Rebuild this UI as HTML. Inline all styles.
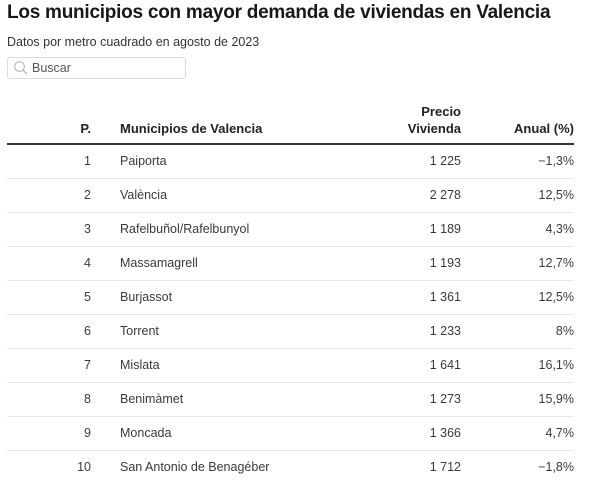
<!DOCTYPE html>
<html><head><meta charset="utf-8">
<style>
html,body{margin:0;padding:0;background:#fff;}
body{width:615px;height:488px;position:relative;overflow:hidden;font-family:"Liberation Sans",Arial,sans-serif;color:#333;}
.t{position:absolute;white-space:nowrap;line-height:16px;}
h1{position:absolute;left:7px;top:1px;margin:0;font-size:19px;font-weight:bold;color:#181818;white-space:nowrap;letter-spacing:-0.25px;line-height:24px;}
.sub{left:7px;top:34px;font-size:12.5px;color:#333;}
.search{position:absolute;left:7px;top:57px;width:179px;height:22px;border:1px solid #ddd;border-radius:3px;box-sizing:border-box;}
.search span{position:absolute;left:24px;top:2px;font-size:12.5px;color:#555;line-height:16px;}
.hd{font-size:13px;font-weight:bold;color:#222;}
.r{text-align:right;}
.line{position:absolute;left:7px;width:567px;height:1px;background:#e6e6e6;}
.cell{font-size:12.5px;color:#3a3a3a;}
</style></head><body>
<h1>Los municipios con mayor demanda de viviendas en Valencia</h1>
<div class="t sub">Datos por metro cuadrado en agosto de 2023</div>
<div class="search">
<svg width="16" height="16" style="position:absolute;left:5px;top:2px" viewBox="0 0 16 16"><circle cx="6.5" cy="6.5" r="4.8" fill="none" stroke="#bbb" stroke-width="1.2"/><line x1="10" y1="10" x2="14" y2="14" stroke="#bbb" stroke-width="1.4"/></svg>
<span>Buscar</span>
</div>
<div class="t hd r" style="right:524px;top:121px;">P.</div>
<div class="t hd" style="left:120px;top:121px;">Municipios de Valencia</div>
<div class="t hd r" style="right:154px;top:104px;">Precio</div>
<div class="t hd r" style="right:154px;top:121px;">Vivienda</div>
<div class="t hd r" style="right:41px;top:121px;">Anual (%)</div>
<div style="position:absolute;left:7px;top:143px;width:567px;height:2px;background:#333;"></div>

<div class="t cell r" style="right:524px;top:153px;">1</div><div class="t cell" style="left:120px;top:153px;">Paiporta</div><div class="t cell r" style="right:154px;top:153px;">1 225</div><div class="t cell r" style="right:41px;top:153px;">−1,3%</div>
<div class="line" style="top:178px"></div>
<div class="t cell r" style="right:524px;top:187px;">2</div><div class="t cell" style="left:120px;top:187px;">València</div><div class="t cell r" style="right:154px;top:187px;">2 278</div><div class="t cell r" style="right:41px;top:187px;">12,5%</div>
<div class="line" style="top:212px"></div>
<div class="t cell r" style="right:524px;top:221px;">3</div><div class="t cell" style="left:120px;top:221px;">Rafelbuñol/Rafelbunyol</div><div class="t cell r" style="right:154px;top:221px;">1 189</div><div class="t cell r" style="right:41px;top:221px;">4,3%</div>
<div class="line" style="top:246px"></div>
<div class="t cell r" style="right:524px;top:255px;">4</div><div class="t cell" style="left:120px;top:255px;">Massamagrell</div><div class="t cell r" style="right:154px;top:255px;">1 193</div><div class="t cell r" style="right:41px;top:255px;">12,7%</div>
<div class="line" style="top:280px"></div>
<div class="t cell r" style="right:524px;top:289px;">5</div><div class="t cell" style="left:120px;top:289px;">Burjassot</div><div class="t cell r" style="right:154px;top:289px;">1 361</div><div class="t cell r" style="right:41px;top:289px;">12,5%</div>
<div class="line" style="top:314px"></div>
<div class="t cell r" style="right:524px;top:323px;">6</div><div class="t cell" style="left:120px;top:323px;">Torrent</div><div class="t cell r" style="right:154px;top:323px;">1 233</div><div class="t cell r" style="right:41px;top:323px;">8%</div>
<div class="line" style="top:348px"></div>
<div class="t cell r" style="right:524px;top:357px;">7</div><div class="t cell" style="left:120px;top:357px;">Mislata</div><div class="t cell r" style="right:154px;top:357px;">1 641</div><div class="t cell r" style="right:41px;top:357px;">16,1%</div>
<div class="line" style="top:382px"></div>
<div class="t cell r" style="right:524px;top:391px;">8</div><div class="t cell" style="left:120px;top:391px;">Benimàmet</div><div class="t cell r" style="right:154px;top:391px;">1 273</div><div class="t cell r" style="right:41px;top:391px;">15,9%</div>
<div class="line" style="top:416px"></div>
<div class="t cell r" style="right:524px;top:425px;">9</div><div class="t cell" style="left:120px;top:425px;">Moncada</div><div class="t cell r" style="right:154px;top:425px;">1 366</div><div class="t cell r" style="right:41px;top:425px;">4,7%</div>
<div class="line" style="top:450px"></div>
<div class="t cell r" style="right:524px;top:459px;">10</div><div class="t cell" style="left:120px;top:459px;">San Antonio de Benagéber</div><div class="t cell r" style="right:154px;top:459px;">1 712</div><div class="t cell r" style="right:41px;top:459px;">−1,8%</div>
</body></html>
